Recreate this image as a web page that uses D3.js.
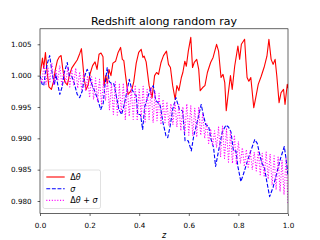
<!DOCTYPE html>
<html>
<head>
<meta charset="utf-8">
<script src="https://cdn.jsdelivr.net/npm/d3@7"></script>
<style>
  body { margin: 0; background: #fff; }
  text { font-family: "DejaVu Sans", sans-serif; }
</style>
</head>
<body>
<svg id="chart" width="320" height="240"></svg>
<script>
// tick values
var xTicks = [0.0, 0.2, 0.4, 0.6, 0.8, 1.0];
var yTicks = [0.980, 0.985, 0.990, 0.995, 1.000, 1.005];

// delta theta  [z, value]
var dTheta = [
  [0.000, 1.0000], [0.010, 1.0028], [0.015, 1.0012], [0.022, 1.0037], [0.028, 1.0008],
  [0.036, 0.9982], [0.046, 0.9978], [0.054, 0.9990], [0.062, 1.0010], [0.070, 1.0024],
  [0.078, 1.0030], [0.085, 1.0032], [0.092, 1.0010], [0.100, 0.9990], [0.110, 0.9985],
  [0.118, 1.0000], [0.128, 1.0012], [0.138, 1.0018], [0.150, 1.0025], [0.160, 1.0035],
  [0.167, 1.0043], [0.172, 1.0022], [0.178, 0.9995], [0.186, 0.9978], [0.194, 0.9985],
  [0.202, 1.0003], [0.212, 1.0016], [0.222, 1.0022], [0.230, 1.0010], [0.238, 1.0034],
  [0.246, 1.0036], [0.254, 1.0030], [0.258, 0.9984], [0.265, 1.0000], [0.272, 0.9987],
  [0.278, 1.0010], [0.286, 1.0000], [0.294, 1.0020], [0.305, 1.0023], [0.315, 1.0037],
  [0.325, 1.0045], [0.332, 1.0026], [0.338, 1.0024], [0.345, 1.0000], [0.355, 0.9970],
  [0.365, 0.9975], [0.372, 0.9980], [0.378, 0.9990], [0.388, 1.0020], [0.398, 1.0037],
  [0.408, 1.0042], [0.415, 1.0029], [0.420, 1.0031], [0.428, 1.0022], [0.440, 0.9984],
  [0.452, 0.9965], [0.462, 1.0000], [0.470, 1.0005], [0.478, 1.0002], [0.488, 1.0021],
  [0.498, 1.0032], [0.510, 1.0039], [0.518, 1.0018], [0.526, 1.0013], [0.535, 0.9984],
  [0.545, 0.9962], [0.552, 0.9984], [0.560, 0.9976], [0.570, 0.9997], [0.576, 1.0005],
  [0.584, 1.0023], [0.590, 1.0015], [0.598, 1.0039], [0.608, 1.0061], [0.615, 1.0013],
  [0.622, 1.0021], [0.632, 1.0026], [0.640, 1.0010], [0.646, 0.9976], [0.656, 0.9981],
  [0.665, 0.9984], [0.675, 1.0005], [0.688, 1.0021], [0.698, 1.0029], [0.712, 1.0050],
  [0.720, 1.0039], [0.730, 0.9997], [0.738, 1.0002], [0.745, 0.9989], [0.751, 0.9944],
  [0.758, 0.9968], [0.768, 1.0000], [0.775, 0.9978], [0.785, 1.0015], [0.798, 1.0047],
  [0.805, 1.0026], [0.812, 1.0050], [0.825, 1.0058], [0.830, 1.0026], [0.835, 0.9997],
  [0.842, 0.9991], [0.850, 0.9997], [0.862, 0.9949], [0.870, 0.9965], [0.880, 0.9986],
  [0.892, 0.9999], [0.905, 1.0015], [0.915, 1.0031], [0.923, 1.0058], [0.932, 1.0026],
  [0.940, 1.0018], [0.948, 1.0026], [0.955, 0.9999], [0.964, 0.9957], [0.972, 0.9973],
  [0.982, 0.9978], [0.988, 0.9954], [0.997, 0.9986], [1.000, 0.9980]
];

// sigma
var sigma = [
  [0.000, 1.0000], [0.008, 0.9987], [0.015, 0.9984], [0.022, 1.0005], [0.030, 1.0020],
  [0.039, 1.0032], [0.045, 1.0015], [0.052, 0.9997], [0.058, 0.9985], [0.064, 1.0002],
  [0.072, 0.9985], [0.080, 0.9970], [0.090, 0.9983], [0.098, 1.0005], [0.110, 1.0021],
  [0.118, 1.0000], [0.128, 0.9999], [0.138, 0.9988], [0.150, 0.9970], [0.160, 0.9965],
  [0.170, 0.9975], [0.180, 0.9999], [0.190, 1.0010], [0.198, 1.0005], [0.205, 0.9990],
  [0.218, 0.9978], [0.230, 0.9965], [0.245, 0.9946], [0.255, 0.9956], [0.262, 0.9985],
  [0.271, 1.0013], [0.280, 0.9990], [0.290, 0.9987], [0.298, 0.9987], [0.305, 0.9973],
  [0.318, 0.9946], [0.329, 0.9938], [0.338, 0.9951], [0.348, 0.9970], [0.360, 0.9994],
  [0.370, 0.9978], [0.378, 0.9973], [0.388, 0.9968], [0.394, 0.9938], [0.405, 0.9938],
  [0.414, 0.9914], [0.422, 0.9950], [0.432, 0.9963], [0.446, 0.9979], [0.457, 0.9984],
  [0.467, 0.9960], [0.476, 0.9957], [0.485, 0.9952], [0.496, 0.9925], [0.508, 0.9904],
  [0.515, 0.9901], [0.525, 0.9920], [0.535, 0.9946], [0.548, 0.9965], [0.562, 0.9946],
  [0.575, 0.9944], [0.585, 0.9896], [0.598, 0.9896], [0.610, 0.9880], [0.620, 0.9904],
  [0.632, 0.9923], [0.650, 0.9954], [0.660, 0.9935], [0.668, 0.9922], [0.680, 0.9919],
  [0.690, 0.9898], [0.700, 0.9885], [0.708, 0.9855], [0.720, 0.9880], [0.735, 0.9910],
  [0.750, 0.9921], [0.760, 0.9918], [0.770, 0.9910], [0.780, 0.9880], [0.790, 0.9880],
  [0.798, 0.9855], [0.810, 0.9831], [0.822, 0.9845], [0.835, 0.9862], [0.850, 0.9880],
  [0.866, 0.9898], [0.876, 0.9892], [0.885, 0.9876], [0.895, 0.9860], [0.905, 0.9853],
  [0.915, 0.9830], [0.926, 0.9807], [0.940, 0.9822], [0.955, 0.9845], [0.970, 0.9868],
  [0.985, 0.9887], [0.992, 0.9868], [1.000, 0.9840]
];

// delta theta + sigma
var dThetaSigma = [
  [0.000, 1.0000], [0.008, 0.9988], [0.016, 1.0018], [0.024, 0.9986], [0.032, 1.0012],
  [0.040, 0.9990], [0.048, 1.0020], [0.056, 0.9985], [0.064, 1.0010], [0.072, 0.9992],
  [0.080, 1.0016], [0.088, 0.9984], [0.096, 1.0008], [0.104, 0.9988], [0.112, 1.0014],
  [0.120, 0.9982], [0.128, 1.0010], [0.136, 0.9985], [0.144, 1.0012], [0.152, 0.9980],
  [0.160, 1.0006], [0.168, 0.9978], [0.176, 1.0004], [0.184, 0.9975], [0.192, 1.0000],
  [0.200, 0.9965], [0.208, 0.9998], [0.216, 0.9962], [0.224, 0.9996], [0.232, 0.9958],
  [0.240, 0.9994], [0.248, 0.9955], [0.256, 0.9990], [0.264, 0.9960], [0.272, 0.9992],
  [0.280, 0.9945], [0.288, 0.9988], [0.296, 0.9938], [0.304, 0.9990], [0.312, 0.9935],
  [0.320, 0.9986], [0.328, 0.9940], [0.336, 0.9988], [0.344, 0.9930], [0.352, 0.9984],
  [0.360, 0.9935], [0.368, 0.9982], [0.376, 0.9930], [0.384, 0.9985], [0.392, 0.9928],
  [0.400, 0.9980], [0.408, 0.9932], [0.416, 0.9983], [0.424, 0.9926], [0.432, 0.9978],
  [0.440, 0.9930], [0.448, 0.9982], [0.456, 0.9925], [0.464, 0.9975], [0.472, 0.9928],
  [0.480, 0.9972], [0.488, 0.9922], [0.496, 0.9962], [0.504, 0.9925], [0.512, 0.9958],
  [0.520, 0.9920], [0.528, 0.9955], [0.536, 0.9922], [0.544, 0.9957], [0.552, 0.9918],
  [0.560, 0.9954], [0.568, 0.9912], [0.576, 0.9950], [0.584, 0.9908], [0.592, 0.9955],
  [0.600, 0.9905], [0.608, 0.9952], [0.616, 0.9904], [0.624, 0.9948], [0.632, 0.9902],
  [0.640, 0.9950], [0.648, 0.9905], [0.656, 0.9940], [0.664, 0.9900], [0.672, 0.9925],
  [0.680, 0.9892], [0.688, 0.9915], [0.696, 0.9888], [0.704, 0.9912], [0.712, 0.9885],
  [0.720, 0.9918], [0.728, 0.9870], [0.736, 0.9920], [0.744, 0.9868], [0.752, 0.9915],
  [0.760, 0.9862], [0.768, 0.9910], [0.776, 0.9860], [0.784, 0.9905], [0.792, 0.9858],
  [0.800, 0.9895], [0.808, 0.9860], [0.816, 0.9885], [0.824, 0.9855], [0.832, 0.9882],
  [0.840, 0.9852], [0.848, 0.9880], [0.856, 0.9850], [0.864, 0.9878], [0.872, 0.9848],
  [0.880, 0.9880], [0.888, 0.9842], [0.896, 0.9876], [0.904, 0.9840], [0.912, 0.9878],
  [0.920, 0.9835], [0.928, 0.9875], [0.936, 0.9825], [0.944, 0.9872], [0.952, 0.9818],
  [0.960, 0.9870], [0.968, 0.9815], [0.976, 0.9865], [0.984, 0.9810], [0.992, 0.9868],
  [1.000, 0.9797]
];

var series = [
  {name: "dTheta", data: dTheta, color: "#ff0000", dash: null},
  {name: "sigma", data: sigma, color: "#0000ff", dash: "3.9,1.7"},
  {name: "dThetaSigma", data: dThetaSigma, color: "#ff00ff", dash: "1.05,1.7"}
];

var svg = d3.select("#chart");
var margin = {top: 28.8, right: 32, bottom: 26.4, left: 40};
var width = 320 - margin.left - margin.right,
    height = 240 - margin.top - margin.bottom;

var x = d3.scaleLinear().domain([0, 1]).range([0, width]);
var y = d3.scaleLinear().domain([0.97799, 1.00747]).range([height, 0]);

var g = svg.append("g")
    .attr("transform", "translate(" + margin.left + "," + margin.top + ")");

g.append("clipPath").attr("id", "clip")
  .append("rect").attr("width", width).attr("height", height);

var line = d3.line()
    .x(function(d) { return x(d[0]); })
    .y(function(d) { return y(d[1]); });

g.append("g").attr("clip-path", "url(#clip)")
  .selectAll("path")
  .data(series)
  .enter().append("path")
    .attr("d", function(d) { return line(d.data); })
    .attr("fill", "none")
    .attr("stroke", function(d) { return d.color; })
    .attr("stroke-width", 1.1)
    .attr("stroke-linejoin", "round")
    .attr("stroke-dasharray", function(d) { return d.dash; });

// axes
var xAxis = g.append("g")
    .attr("transform", "translate(0," + height + ")")
    .call(d3.axisBottom(x).tickValues(xTicks).tickFormat(d3.format(".1f"))
      .tickSize(2.4).tickPadding(7).tickSizeOuter(0));
var yAxis = g.append("g")
    .call(d3.axisLeft(y).tickValues(yTicks).tickFormat(d3.format(".3f"))
      .tickSize(2.4).tickPadding(6).tickSizeOuter(0));

[xAxis, yAxis].forEach(function(a) {
  a.select(".domain").remove();
  a.selectAll("line").attr("stroke", "#000").attr("stroke-width", 0.6);
  a.selectAll("text").attr("font-size", 7.2).attr("fill", "#000")
    .attr("font-family", "DejaVu Sans");
});

// frame
g.append("rect")
    .attr("width", width).attr("height", height)
    .attr("fill", "none").attr("stroke", "#000").attr("stroke-width", 0.6);

// title
svg.append("text")
    .attr("x", margin.left + width / 2).attr("y", 25)
    .attr("text-anchor", "middle")
    .attr("font-size", 11)
    .text("Redshift along random ray");

// x label
svg.append("text")
    .attr("x", margin.left + width / 2).attr("y", 237.5)
    .attr("text-anchor", "middle")
    .attr("font-size", 8)
    .attr("font-style", "italic")
    .text("z");

// legend
var legend = svg.append("g").attr("transform", "translate(43,170)");
legend.append("rect")
    .attr("width", 57.5).attr("height", 38.5)
    .attr("rx", 1.8)
    .attr("fill", "#fff").attr("fill-opacity", 0.8)
    .attr("stroke", "#cccccc").attr("stroke-width", 0.6);

var labels = [
  [["Δ", false], ["θ", true]],
  [["σ", true]],
  [["Δ", false], ["θ", true], [" + ", false], ["σ", true]]
];

series.forEach(function(s, i) {
  var ly = 7 + i * 11.7;
  legend.append("line")
      .attr("x1", 3.3).attr("x2", 21.7)
      .attr("y1", ly).attr("y2", ly)
      .attr("stroke", s.color).attr("stroke-width", 1.1)
      .attr("stroke-dasharray", s.dash);
  var t = legend.append("text")
      .attr("x", 27.3).attr("y", ly + 2.8)
      .attr("font-size", 8);
  labels[i].forEach(function(p) {
    t.append("tspan")
      .attr("font-style", p[1] ? "italic" : "normal")
      .text(p[0]);
  });
});
</script>
</body>
</html>
